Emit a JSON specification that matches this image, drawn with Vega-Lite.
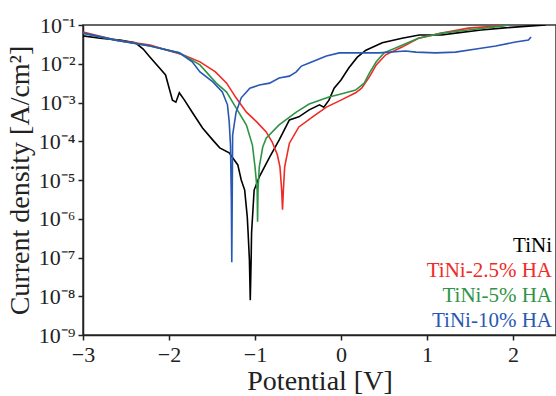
{
  "$schema": "https://vega.github.io/schema/vega-lite/v6.json",
  "width": 473,
  "height": 310,
  "autosize": "none",
  "padding": {"left": 83, "top": 25, "right": 0, "bottom": 61},
  "background": "white",
  "config": {
    "font": "Liberation Serif",
    "view": {"stroke": "#333", "strokeWidth": 1.5}
  },
  "layer": [
    {
      "data": {"values": [
        {"series": "TiNi", "E": -3.00, "i": 5.25e-2},
        {"series": "TiNi", "E": -2.80, "i": 4.57e-2},
        {"series": "TiNi", "E": -2.57, "i": 4.07e-2},
        {"series": "TiNi", "E": -2.39, "i": 3.47e-2},
        {"series": "TiNi", "E": -2.30, "i": 2.4e-2},
        {"series": "TiNi", "E": -2.22, "i": 1.48e-2},
        {"series": "TiNi", "E": -2.11, "i": 7.76e-3},
        {"series": "TiNi", "E": -2.04, "i": 5.13e-3},
        {"series": "TiNi", "E": -1.96, "i": 1.15e-3},
        {"series": "TiNi", "E": -1.92, "i": 1.02e-3},
        {"series": "TiNi", "E": -1.88, "i": 1.78e-3},
        {"series": "TiNi", "E": -1.82, "i": 1.15e-3},
        {"series": "TiNi", "E": -1.73, "i": 5.62e-4},
        {"series": "TiNi", "E": -1.61, "i": 2.19e-4},
        {"series": "TiNi", "E": -1.49, "i": 1.07e-4},
        {"series": "TiNi", "E": -1.41, "i": 6.76e-5},
        {"series": "TiNi", "E": -1.30, "i": 5.01e-5},
        {"series": "TiNi", "E": -1.20, "i": 2.45e-5},
        {"series": "TiNi", "E": -1.16, "i": 1.0e-5},
        {"series": "TiNi", "E": -1.12, "i": 5.5e-6},
        {"series": "TiNi", "E": -1.09, "i": 1.12e-6},
        {"series": "TiNi", "E": -1.08, "i": 4.27e-7},
        {"series": "TiNi", "E": -1.065, "i": 8.71e-8},
        {"series": "TiNi", "E": -1.055, "i": 7.94e-9},
        {"series": "TiNi", "E": -1.045, "i": 8.71e-8},
        {"series": "TiNi", "E": -1.04, "i": 4.27e-7},
        {"series": "TiNi", "E": -1.01, "i": 5.5e-6},
        {"series": "TiNi", "E": -0.95, "i": 1.2e-5},
        {"series": "TiNi", "E": -0.83, "i": 3.89e-5},
        {"series": "TiNi", "E": -0.72, "i": 1.07e-4},
        {"series": "TiNi", "E": -0.60, "i": 3.55e-4},
        {"series": "TiNi", "E": -0.49, "i": 4.27e-4},
        {"series": "TiNi", "E": -0.37, "i": 6.46e-4},
        {"series": "TiNi", "E": -0.25, "i": 8.71e-4},
        {"series": "TiNi", "E": -0.20, "i": 7.59e-4},
        {"series": "TiNi", "E": -0.14, "i": 1.15e-3},
        {"series": "TiNi", "E": -0.08, "i": 2.34e-3},
        {"series": "TiNi", "E": 0.00, "i": 3.8e-3},
        {"series": "TiNi", "E": 0.09, "i": 7.76e-3},
        {"series": "TiNi", "E": 0.19, "i": 1.48e-2},
        {"series": "TiNi", "E": 0.29, "i": 2.24e-2},
        {"series": "TiNi", "E": 0.48, "i": 3.47e-2},
        {"series": "TiNi", "E": 0.71, "i": 4.57e-2},
        {"series": "TiNi", "E": 0.91, "i": 5.5e-2},
        {"series": "TiNi", "E": 1.17, "i": 5.5e-2},
        {"series": "TiNi", "E": 1.33, "i": 6.17e-2},
        {"series": "TiNi", "E": 1.63, "i": 7.41e-2},
        {"series": "TiNi", "E": 1.87, "i": 8.32e-2},
        {"series": "TiNi", "E": 2.18, "i": 9.33e-2},
        {"series": "TiNi", "E": 2.38, "i": 1.0e-1},

        {"series": "TiNi-2.5% HA", "E": -3.00, "i": 6.61e-2},
        {"series": "TiNi-2.5% HA", "E": -2.62, "i": 4.07e-2},
        {"series": "TiNi-2.5% HA", "E": -2.22, "i": 3.02e-2},
        {"series": "TiNi-2.5% HA", "E": -1.84, "i": 1.7e-2},
        {"series": "TiNi-2.5% HA", "E": -1.64, "i": 1.12e-2},
        {"series": "TiNi-2.5% HA", "E": -1.46, "i": 6.17e-3},
        {"series": "TiNi-2.5% HA", "E": -1.33, "i": 3.16e-3},
        {"series": "TiNi-2.5% HA", "E": -1.22, "i": 1.32e-3},
        {"series": "TiNi-2.5% HA", "E": -1.10, "i": 5.62e-4},
        {"series": "TiNi-2.5% HA", "E": -0.98, "i": 3.16e-4},
        {"series": "TiNi-2.5% HA", "E": -0.87, "i": 1.74e-4},
        {"series": "TiNi-2.5% HA", "E": -0.80, "i": 9.55e-5},
        {"series": "TiNi-2.5% HA", "E": -0.74, "i": 4.47e-5},
        {"series": "TiNi-2.5% HA", "E": -0.71, "i": 2.19e-5},
        {"series": "TiNi-2.5% HA", "E": -0.69, "i": 5.5e-6},
        {"series": "TiNi-2.5% HA", "E": -0.68, "i": 1.7e-6},
        {"series": "TiNi-2.5% HA", "E": -0.67, "i": 5.5e-6},
        {"series": "TiNi-2.5% HA", "E": -0.655, "i": 2.19e-5},
        {"series": "TiNi-2.5% HA", "E": -0.60, "i": 8.91e-5},
        {"series": "TiNi-2.5% HA", "E": -0.49, "i": 2.34e-4},
        {"series": "TiNi-2.5% HA", "E": -0.33, "i": 4.27e-4},
        {"series": "TiNi-2.5% HA", "E": -0.17, "i": 7.59e-4},
        {"series": "TiNi-2.5% HA", "E": 0.00, "i": 1.15e-3},
        {"series": "TiNi-2.5% HA", "E": 0.17, "i": 1.78e-3},
        {"series": "TiNi-2.5% HA", "E": 0.24, "i": 2.34e-3},
        {"series": "TiNi-2.5% HA", "E": 0.33, "i": 4.57e-3},
        {"series": "TiNi-2.5% HA", "E": 0.41, "i": 9.33e-3},
        {"series": "TiNi-2.5% HA", "E": 0.52, "i": 1.7e-2},
        {"series": "TiNi-2.5% HA", "E": 0.71, "i": 2.69e-2},
        {"series": "TiNi-2.5% HA", "E": 0.90, "i": 4.57e-2},
        {"series": "TiNi-2.5% HA", "E": 1.17, "i": 6.17e-2},
        {"series": "TiNi-2.5% HA", "E": 1.48, "i": 8.32e-2},
        {"series": "TiNi-2.5% HA", "E": 1.80, "i": 9.33e-2},
        {"series": "TiNi-2.5% HA", "E": 1.95, "i": 1.0e-1},

        {"series": "TiNi-5% HA", "E": -3.00, "i": 6.17e-2},
        {"series": "TiNi-5% HA", "E": -2.62, "i": 4.07e-2},
        {"series": "TiNi-5% HA", "E": -2.22, "i": 2.88e-2},
        {"series": "TiNi-5% HA", "E": -1.88, "i": 1.91e-2},
        {"series": "TiNi-5% HA", "E": -1.64, "i": 9.33e-3},
        {"series": "TiNi-5% HA", "E": -1.45, "i": 3.16e-3},
        {"series": "TiNi-5% HA", "E": -1.33, "i": 1.86e-3},
        {"series": "TiNi-5% HA", "E": -1.22, "i": 7.24e-4},
        {"series": "TiNi-5% HA", "E": -1.10, "i": 2.63e-4},
        {"series": "TiNi-5% HA", "E": -1.03, "i": 7.94e-5},
        {"series": "TiNi-5% HA", "E": -1.00, "i": 2.19e-5},
        {"series": "TiNi-5% HA", "E": -0.975, "i": 5.5e-6},
        {"series": "TiNi-5% HA", "E": -0.97, "i": 8.32e-7},
        {"series": "TiNi-5% HA", "E": -0.965, "i": 5.5e-6},
        {"series": "TiNi-5% HA", "E": -0.95, "i": 2.19e-5},
        {"series": "TiNi-5% HA", "E": -0.91, "i": 7.08e-5},
        {"series": "TiNi-5% HA", "E": -0.87, "i": 1.2e-4},
        {"series": "TiNi-5% HA", "E": -0.72, "i": 2.63e-4},
        {"series": "TiNi-5% HA", "E": -0.52, "i": 5.62e-4},
        {"series": "TiNi-5% HA", "E": -0.37, "i": 9.12e-4},
        {"series": "TiNi-5% HA", "E": -0.14, "i": 1.38e-3},
        {"series": "TiNi-5% HA", "E": 0.00, "i": 1.66e-3},
        {"series": "TiNi-5% HA", "E": 0.17, "i": 2.09e-3},
        {"series": "TiNi-5% HA", "E": 0.27, "i": 3.16e-3},
        {"series": "TiNi-5% HA", "E": 0.33, "i": 5.75e-3},
        {"series": "TiNi-5% HA", "E": 0.41, "i": 1.12e-2},
        {"series": "TiNi-5% HA", "E": 0.50, "i": 1.91e-2},
        {"series": "TiNi-5% HA", "E": 0.71, "i": 3.02e-2},
        {"series": "TiNi-5% HA", "E": 0.90, "i": 4.57e-2},
        {"series": "TiNi-5% HA", "E": 1.17, "i": 6.17e-2},
        {"series": "TiNi-5% HA", "E": 1.48, "i": 7.41e-2},
        {"series": "TiNi-5% HA", "E": 1.87, "i": 9.33e-2},
        {"series": "TiNi-5% HA", "E": 1.95, "i": 1.0e-1},

        {"series": "TiNi-10% HA", "E": -3.00, "i": 6.17e-2},
        {"series": "TiNi-10% HA", "E": -2.62, "i": 4.07e-2},
        {"series": "TiNi-10% HA", "E": -2.22, "i": 2.88e-2},
        {"series": "TiNi-10% HA", "E": -1.88, "i": 1.91e-2},
        {"series": "TiNi-10% HA", "E": -1.73, "i": 1.12e-2},
        {"series": "TiNi-10% HA", "E": -1.64, "i": 6.17e-3},
        {"series": "TiNi-10% HA", "E": -1.49, "i": 3.39e-3},
        {"series": "TiNi-10% HA", "E": -1.38, "i": 1.86e-3},
        {"series": "TiNi-10% HA", "E": -1.32, "i": 8.71e-4},
        {"series": "TiNi-10% HA", "E": -1.30, "i": 3.16e-4},
        {"series": "TiNi-10% HA", "E": -1.285, "i": 7.94e-5},
        {"series": "TiNi-10% HA", "E": -1.275, "i": 3.02e-6},
        {"series": "TiNi-10% HA", "E": -1.27, "i": 7.59e-8},
        {"series": "TiNi-10% HA", "E": -1.265, "i": 3.02e-6},
        {"series": "TiNi-10% HA", "E": -1.26, "i": 1.45e-4},
        {"series": "TiNi-10% HA", "E": -1.22, "i": 5.62e-4},
        {"series": "TiNi-10% HA", "E": -1.16, "i": 1.32e-3},
        {"series": "TiNi-10% HA", "E": -1.06, "i": 2.34e-3},
        {"series": "TiNi-10% HA", "E": -0.95, "i": 2.82e-3},
        {"series": "TiNi-10% HA", "E": -0.83, "i": 3.16e-3},
        {"series": "TiNi-10% HA", "E": -0.72, "i": 4.27e-3},
        {"series": "TiNi-10% HA", "E": -0.60, "i": 4.79e-3},
        {"series": "TiNi-10% HA", "E": -0.52, "i": 6.17e-3},
        {"series": "TiNi-10% HA", "E": -0.46, "i": 8.71e-3},
        {"series": "TiNi-10% HA", "E": -0.37, "i": 1.05e-2},
        {"series": "TiNi-10% HA", "E": -0.17, "i": 1.58e-2},
        {"series": "TiNi-10% HA", "E": -0.02, "i": 1.91e-2},
        {"series": "TiNi-10% HA", "E": 0.17, "i": 1.91e-2},
        {"series": "TiNi-10% HA", "E": 0.44, "i": 1.91e-2},
        {"series": "TiNi-10% HA", "E": 0.75, "i": 2.14e-2},
        {"series": "TiNi-10% HA", "E": 0.87, "i": 2.0e-2},
        {"series": "TiNi-10% HA", "E": 1.10, "i": 1.91e-2},
        {"series": "TiNi-10% HA", "E": 1.33, "i": 2.0e-2},
        {"series": "TiNi-10% HA", "E": 1.57, "i": 2.4e-2},
        {"series": "TiNi-10% HA", "E": 1.80, "i": 2.88e-2},
        {"series": "TiNi-10% HA", "E": 2.03, "i": 3.63e-2},
        {"series": "TiNi-10% HA", "E": 2.18, "i": 4.07e-2},
        {"series": "TiNi-10% HA", "E": 2.21, "i": 4.9e-2}
      ]},
      "mark": {"type": "line", "strokeWidth": 1.6, "clip": true},
      "encoding": {
        "x": {"field": "E", "type": "quantitative", "title": "Potential [V]",
              "scale": {"domain": [-3, 2.5], "nice": false, "zero": false},
              "axis": {"values": [-3, -2, -1, 0, 1, 2], "format": "d", "labelPadding": 4, "titlePadding": 2, "labelFlush": false, "grid": false,
                       "labelFont": "Liberation Serif", "titleFont": "Liberation Serif", "labelFontSize": 22, "titleFontSize": 28, "titleFontWeight": "normal",
                       "labelColor": "#222", "titleColor": "#222", "domainColor": "#222", "tickColor": "#222", "domainWidth": 1.5, "tickWidth": 1.5, "tickSize": 5}},
        "y": {"field": "i", "type": "quantitative", "title": "Current density [A/cm²]",
              "scale": {"type": "log", "domain": [1e-9, 0.1], "nice": false},
              "axis": {"values": [1e-9, 1e-8, 1e-7, 1e-6, 1e-5, 1e-4, 1e-3, 1e-2, 1e-1], "labelFlush": false, "labelPadding": 3, "titlePadding": 4, "grid": false,
                       "labelFont": "Liberation Serif", "titleFont": "Liberation Serif", "labelFontSize": 22, "titleFontSize": 28, "titleFontWeight": "normal",
                       "labelColor": "#222", "titleColor": "#222", "domainColor": "#222", "tickColor": "#222", "domainWidth": 1.5, "tickWidth": 1.5, "tickSize": 5,
                       "labelExpr": "'10⁻' + ['','¹','²','³','⁴','⁵','⁶','⁷','⁸','⁹'][round(-log(datum.value)/LN10)]"}},
        "color": {"field": "series", "type": "nominal",
                  "scale": {"domain": ["TiNi", "TiNi-2.5% HA", "TiNi-5% HA", "TiNi-10% HA"], "range": ["#000000", "#f02a24", "#2e9446", "#2857b4"]},
                  "legend": {"title": null, "orient": "bottom-right", "offset": 4, "symbolSize": 0, "symbolOpacity": 0, "symbolStrokeWidth": 0, "labelOffset": 0,
                             "labelFont": "Liberation Serif", "labelFontSize": 21, "labelAlign": "right", "rowPadding": 3, "padding": 0,
                             "encode": {"labels": {"update": {"fill": {"scale": "color", "field": "value"}}}}}}
      }
    },
    {
      "mark": {"type": "rule", "color": "#444", "strokeWidth": 1},
      "encoding": {"x": {"datum": 0}}
    }
  ]
}
